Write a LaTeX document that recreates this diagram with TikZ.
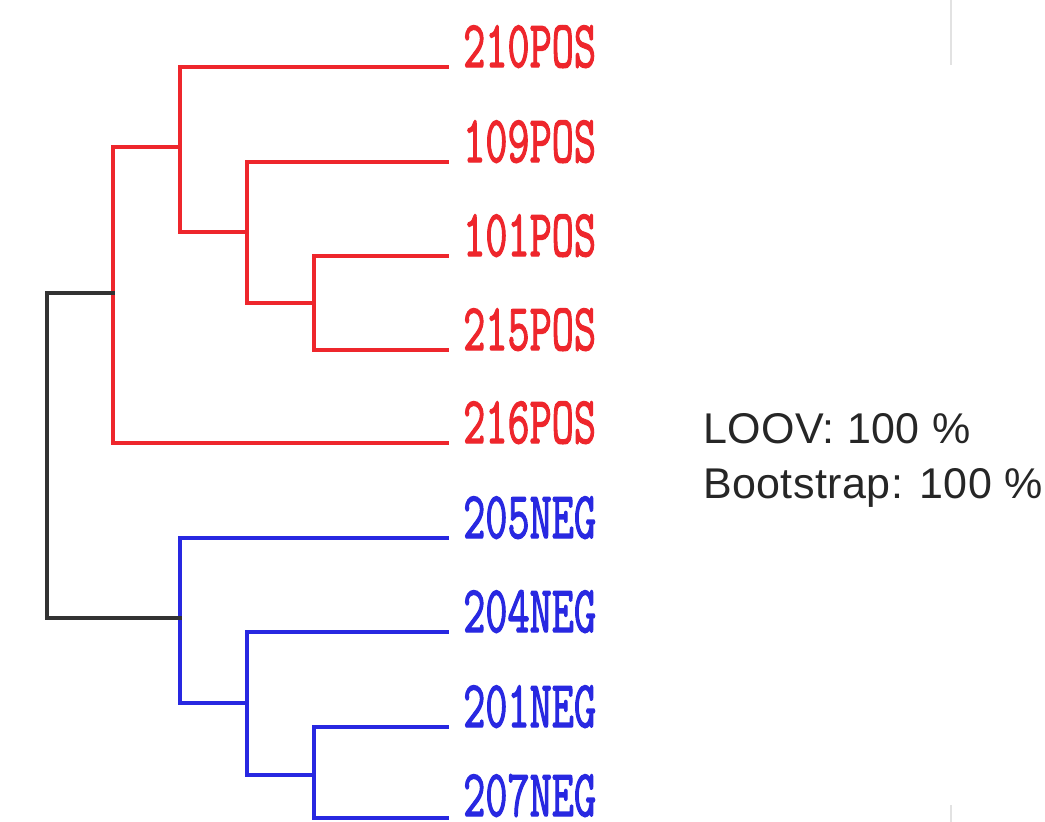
\documentclass[tikz,border=0pt]{standalone}
\usepackage{fontspec}
\usepackage{graphicx}
\setmainfont{Liberation Sans}
\newfontfamily\labfont[FakeBold=2.2]{Latin Modern Mono}
\definecolor{posred}{RGB}{238,38,44}
\definecolor{negblue}{RGB}{40,40,225}
\definecolor{rootgray}{RGB}{50,50,50}
\definecolor{faint}{RGB}{226,226,226}
\begin{document}
\begin{tikzpicture}[x=1pt,y=-1pt,
  branch/.style={line width=4pt,line join=miter,line cap=rect},
  posbranch/.style={branch,draw=posred},
  negbranch/.style={branch,draw=negblue},
  rootline/.style={branch,draw=rootgray},
  leaflab/.style={anchor=base west,inner sep=0pt,font=\labfont\fontsize{43}{43}\selectfont},
  statlab/.style={anchor=base west,inner sep=0pt,text=black!85,font=\fontsize{43}{55}\selectfont\addfontfeature{LetterSpace=1}}]
\useasboundingbox (0,0) rectangle (1045,822);
\fill[white] (0,0) rectangle (1045,822);
% leaf ends
\coordinate (L1) at (447,67);
\coordinate (L2) at (447,162);
\coordinate (L3) at (447,256);
\coordinate (L4) at (447,350);
\coordinate (L5) at (447,443);
\coordinate (L6) at (447,538);
\coordinate (L7) at (447,632);
\coordinate (L8) at (447,727);
\coordinate (L9) at (447,818);
% internal nodes
\coordinate (c4) at (314,303);
\coordinate (c3) at (247,232);
\coordinate (c2) at (180,147);
\coordinate (c1) at (113,293);
\coordinate (n3) at (314,775);
\coordinate (n2) at (247,703);
\coordinate (n1) at (180,618);
\coordinate (rt) at (47,455);
% red clade
\draw[posbranch] (L3) -- (L3 -| c4) -- (L4 -| c4) -- (L4);
\draw[posbranch] (L2) -- (L2 -| c3) -- (c4 -| c3) -- (c4);
\draw[posbranch] (L1) -- (L1 -| c2) -- (c3 -| c2) -- (c3);
\draw[posbranch] (c2) -- (c2 -| c1) -- (L5 -| c1) -- (L5);
% blue clade
\draw[negbranch] (L8) -- (L8 -| n3) -- (L9 -| n3) -- (L9);
\draw[negbranch] (L7) -- (L7 -| n2) -- (n3 -| n2) -- (n3);
\draw[negbranch] (L6) -- (L6 -| n1) -- (n2 -| n1) -- (n2);
% root
\draw[rootline] (c1) -- (c1 -| rt) -- (n1 -| rt) -- (n1);
% labels
\node[leaflab,text=posred] (t1) at (463,67) {\scalebox{1}[1.55]{210POS}};
\node[leaflab,text=posred] (t2) at (463,162) {\scalebox{1}[1.55]{109POS}};
\node[leaflab,text=posred] (t3) at (463,256) {\scalebox{1}[1.55]{101POS}};
\node[leaflab,text=posred] (t4) at (463,350) {\scalebox{1}[1.55]{215POS}};
\node[leaflab,text=posred] (t5) at (463,443) {\scalebox{1}[1.55]{216POS}};
\node[leaflab,text=negblue] (t6) at (463,538) {\scalebox{1}[1.55]{205NEG}};
\node[leaflab,text=negblue] (t7) at (463,632) {\scalebox{1}[1.55]{204NEG}};
\node[leaflab,text=negblue] (t8) at (463,727) {\scalebox{1}[1.55]{201NEG}};
\node[leaflab,text=negblue] (t9) at (463,816) {\scalebox{1}[1.55]{207NEG}};
% statistics
\node[statlab] (s1) at (703,443) {LOOV: 100 \%};
\node[statlab] (s2) at (703,498) {Bootstrap: 100 \%};
% faint frame marks
\coordinate (g1) at (951,0);
\coordinate (g2) at (951,65);
\coordinate (g3) at (951,805);
\coordinate (g4) at (951,822);
\draw[faint,line width=2pt] (g1) -- (g2);
\draw[faint,line width=2pt] (g3) -- (g4);
\end{tikzpicture}
\end{document}
